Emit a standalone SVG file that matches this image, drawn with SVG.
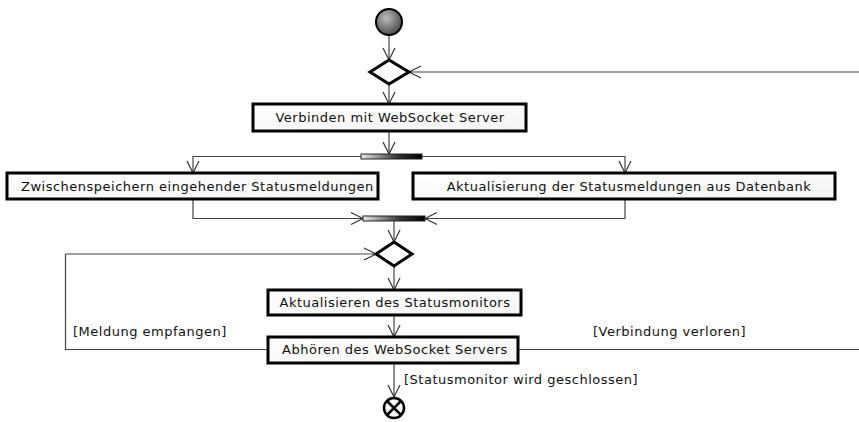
<svg xmlns="http://www.w3.org/2000/svg" width="859" height="422" viewBox="0 0 859 422">
<defs>
<marker id="arr" viewBox="0 0 12 12" refX="12" refY="6" markerWidth="12" markerHeight="12" markerUnits="userSpaceOnUse" orient="auto" overflow="visible">
<path d="M0,0 L12,6 L0,12" fill="none" stroke="#333" stroke-width="1.2"/>
</marker>
<linearGradient id="bar" x1="0" y1="0" x2="1" y2="0">
<stop offset="0" stop-color="#e8e8e8"/><stop offset="0.6" stop-color="#333"/><stop offset="1" stop-color="#000"/>
</linearGradient>
<linearGradient id="box" x1="0" y1="0" x2="1" y2="1">
<stop offset="0" stop-color="#ffffff"/><stop offset="1" stop-color="#f4f4f4"/>
</linearGradient>
<radialGradient id="start" cx="0.4" cy="0.35" r="0.7">
<stop offset="0" stop-color="#bbb"/><stop offset="1" stop-color="#444"/>
</radialGradient>
</defs>
<style>
.act{fill:url(#box);stroke:#000;stroke-width:3}
.dec{fill:#fff;stroke:#000;stroke-width:3}
.bar{fill:url(#bar);stroke:#222;stroke-width:1}
.t{font-family:"DejaVu Sans",sans-serif;font-size:13px;letter-spacing:0.5px;fill:#111}
.c{text-anchor:middle}
.ln{fill:none;stroke:#444;stroke-width:1.2}
</style>
<rect width="859" height="422" fill="#fff"/>
<g id="connectors">
<path class="ln" d="M389,35 L389,60" marker-end="url(#arr)"/>
<path class="ln" d="M860,72 L409,72" marker-end="url(#arr)"/>
<path class="ln" d="M389,84 L389,104" marker-end="url(#arr)"/>
<path class="ln" d="M389,131 L389,154" marker-end="url(#arr)"/>
<path class="ln" d="M361,156.5 L193,156.5 L193,173" marker-end="url(#arr)"/>
<path class="ln" d="M422,156.5 L625,156.5 L625,173" marker-end="url(#arr)"/>
<path class="ln" d="M193,199 L193,218.5 L363,218.5" marker-end="url(#arr)"/>
<path class="ln" d="M625,199 L625,218.5 L425,218.5" marker-end="url(#arr)"/>
<path class="ln" d="M394,221 L394,242" marker-end="url(#arr)"/>
<path class="ln" d="M394,266 L394,290" marker-end="url(#arr)"/>
<path class="ln" d="M394,315 L394,337" marker-end="url(#arr)"/>
<path class="ln" d="M268,349.5 L65.5,349.5 L65.5,254 L376,254" marker-end="url(#arr)"/>
<path class="ln" d="M518,349.5 L860,349.5 L860,72"/>
<path class="ln" d="M394,363 L394,397" marker-end="url(#arr)"/>
<text class="t" x="73" y="336">[Meldung empfangen]</text>
<text class="t" x="593" y="336">[Verbindung verloren]</text>
<text class="t" x="404" y="384">[Statusmonitor wird geschlossen]</text>
</g>
<g id="start"><circle cx="389" cy="22" r="13" fill="url(#start)" stroke="#000" stroke-width="2"/></g>
<g id="merge1"><path class="dec" d="M389,60 L409,72 L389,84 L370,72 Z"/></g>
<g id="verbinden"><rect class="act" x="253" y="104" width="273" height="27"/><text class="t c" x="390" y="122">Verbinden mit WebSocket Server</text></g>
<g id="fork"><rect class="bar" x="361" y="154" width="61" height="5"/></g>
<g id="zwischen"><rect class="act" x="7" y="173" width="371" height="26"/><text class="t" x="21" y="190.5">Zwischenspeichern eingehender Statusmeldungen</text></g>
<g id="aktualisierung"><rect class="act" x="413" y="173" width="422" height="26"/><text class="t c" x="629" y="190.5">Aktualisierung der Statusmeldungen aus Datenbank</text></g>
<g id="join"><rect class="bar" x="363" y="216" width="62" height="5"/></g>
<g id="merge2"><path class="dec" d="M394,242 L412,254 L394,266 L376,254 Z"/></g>
<g id="aktualisieren"><rect class="act" x="268" y="290" width="253" height="25"/><text class="t c" x="395" y="307">Aktualisieren des Statusmonitors</text></g>
<g id="abhoeren"><rect class="act" x="268" y="337" width="250" height="26"/><text class="t c" x="395" y="354">Abhören des WebSocket Servers</text></g>
<g id="end"><circle cx="394" cy="408" r="10" fill="#fff" stroke="#000" stroke-width="2.5"/><path d="M387,401 L401,415 M401,401 L387,415" stroke="#000" stroke-width="2.5"/></g>
</svg>
